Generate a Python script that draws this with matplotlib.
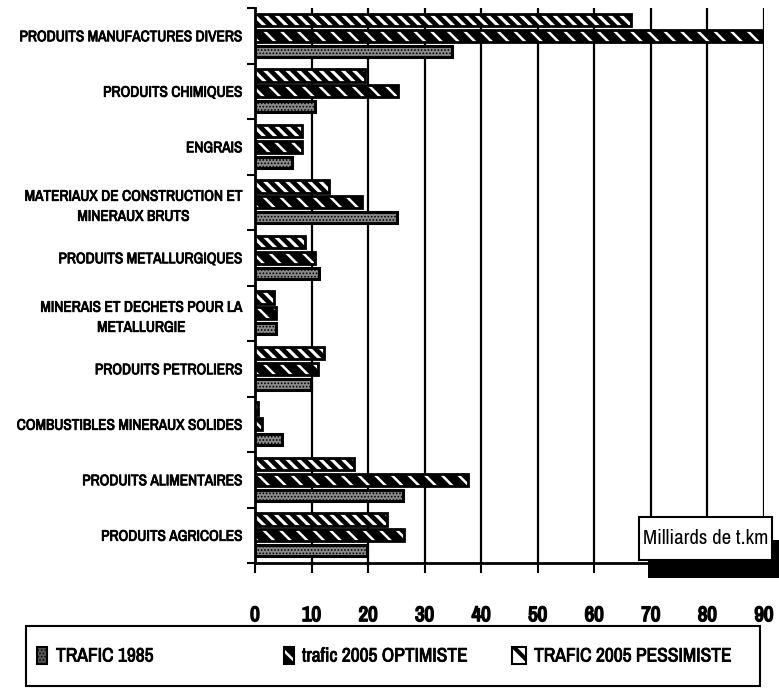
import matplotlib
matplotlib.use("Agg")
import matplotlib.pyplot as plt
import matplotlib.patheffects as pe
from matplotlib import font_manager
from matplotlib.patches import Rectangle
import numpy as np

# freight traffic by product group, billions of t.km
categories = [
    "PRODUITS MANUFACTURES DIVERS",
    "PRODUITS CHIMIQUES",
    "ENGRAIS",
    "MATERIAUX DE CONSTRUCTION ET\nMINERAUX BRUTS",
    "PRODUITS METALLURGIQUES",
    "MINERAIS ET DECHETS POUR LA\nMETALLURGIE",
    "PRODUITS PETROLIERS",
    "COMBUSTIBLES MINERAUX SOLIDES",
    "PRODUITS ALIMENTAIRES",
    "PRODUITS AGRICOLES",
]
trafic_1985 = [34.8, 10.6, 6.5, 25.1, 11.3, 3.7, 9.9, 4.8, 26.2, 19.8]
optimiste_2005 = [90.0, 25.3, 8.3, 18.9, 10.6, 3.7, 11.1, 1.2, 37.7, 26.3]
pessimiste_2005 = [66.5, 19.4, 8.3, 13.1, 8.8, 3.4, 12.2, 0.5, 17.5, 23.3]
x_ticks = [0, 10, 20, 30, 40, 50, 60, 70, 80, 90]

# pick a narrow sans if one is around
installed = {f.name for f in font_manager.fontManager.ttflist}
narrow = None
for name in ['Liberation Sans Narrow', 'Arial Narrow', 'Archivo Narrow',
             'PT Sans Narrow', 'Roboto Condensed', 'Open Sans Condensed']:
    if name in installed:
        narrow = name
        break
if narrow:
    plt.rcParams['font.family'] = [narrow, 'DejaVu Sans']
    scale = 1.0
else:
    plt.rcParams['font.family'] = ['DejaVu Sans']
    plt.rcParams['font.stretch'] = 'condensed'
    scale = 0.8

heavy = [pe.withStroke(linewidth=0.6, foreground='black')]
heavier = [pe.withStroke(linewidth=1.2, foreground='black')]

W, H = 779, 688
fig = plt.figure(figsize=(W / 100, H / 100), dpi=100)
ax = fig.add_axes([255 / W, 1 - 563 / H, 509 / W, 555 / H])

y = np.arange(len(categories))
bh = 0.225

with plt.rc_context({'hatch.linewidth': 3.4}):
    ax.barh(y + 0.22, pessimiste_2005, height=bh, color='white', edgecolor='black',
            linewidth=2, hatch='\\\\\\', zorder=3)
with plt.rc_context({'hatch.linewidth': 1.8}):
    ax.barh(y + 0.5, optimiste_2005, height=bh, color='black', edgecolor='white',
            linewidth=0, hatch='\\\\', zorder=3)
ax.barh(y + 0.5, optimiste_2005, height=bh, fill=False, edgecolor='black',
        linewidth=2, zorder=4)
with plt.rc_context({'hatch.linewidth': 0.8}):
    ax.barh(y + 0.78, trafic_1985, height=0.2, color='#8a8a8a', edgecolor='black',
            linewidth=2.2, hatch='.....', zorder=3)

ax.set_xlim(0, 90)
ax.set_ylim(len(categories), 0)
ax.spines['top'].set_visible(False)
ax.spines['right'].set_visible(False)
ax.spines['left'].set_linewidth(2)
ax.spines['bottom'].set_linewidth(2)

ax.set_xticks(x_ticks)
ax.set_xticklabels([str(v) for v in x_ticks], fontsize=15 * scale,
                   fontweight='bold', path_effects=heavier)
ax.tick_params(axis='x', direction='out', length=7, width=1.5, pad=24)
ax.grid(axis='x', color='black', linewidth=1.6, zorder=1)
ax.set_axisbelow(True)

ax.set_yticks(np.arange(len(categories) + 1))
ax.set_yticklabels([])
ax.tick_params(axis='y', which='major', direction='out', length=6, width=1.5)
ax.set_yticks(y + 0.5, minor=True)
ax.set_yticklabels(categories, minor=True, fontsize=11 * scale,
                   multialignment='center', linespacing=1.55, path_effects=heavy)
ax.tick_params(axis='y', which='minor', length=0, pad=9)

# unit label with drop shadow
fig.add_artist(Rectangle((648 / W, 1 - 578 / H), (W - 648) / W, 38 / H,
                         transform=fig.transFigure, facecolor='black',
                         edgecolor='none', zorder=5))
fig.add_artist(Rectangle((639 / W, 1 - 560 / H), 133 / W, 43 / H,
                         transform=fig.transFigure, facecolor='white',
                         edgecolor='black', linewidth=1.5, zorder=6))
fig.text(705.5 / W, 1 - 539 / H, "Milliards de t.km", fontsize=15 * scale,
         ha='center', va='center', zorder=7)

# legend box
fig.add_artist(Rectangle((26 / W, 1 - 686 / H), 734 / W, 60 / H,
                         transform=fig.transFigure, facecolor='white',
                         edgecolor='black', linewidth=1.5, zorder=5))
legend_items = [
    ("TRAFIC 1985", 37, 10, 56, dict(facecolor='#555555', edgecolor='black', hatch='.....'), 0.7),
    ("trafic 2005 OPTIMISTE", 284, 10, 302, dict(facecolor='black', edgecolor='white', hatch='\\\\'), 1.8),
    ("TRAFIC 2005 PESSIMISTE", 512, 14, 534, dict(facecolor='white', edgecolor='black', hatch='\\'), 3.0),
]
for label, ix, iw, tx, style, hlw in legend_items:
    with plt.rc_context({'hatch.linewidth': hlw}):
        fig.add_artist(Rectangle((ix / W, 1 - 664 / H), iw / W, 17 / H,
                                 transform=fig.transFigure, linewidth=0,
                                 zorder=6, **style))
    fig.add_artist(Rectangle((ix / W, 1 - 664 / H), iw / W, 17 / H,
                             transform=fig.transFigure, fill=False,
                             edgecolor='black', linewidth=1.5, zorder=7))
    fig.text(tx / W, 1 - 656 / H, label, fontsize=14 * scale, ha='left',
             va='center', zorder=7, path_effects=heavy)

fig.savefig("out.png", dpi=100)
